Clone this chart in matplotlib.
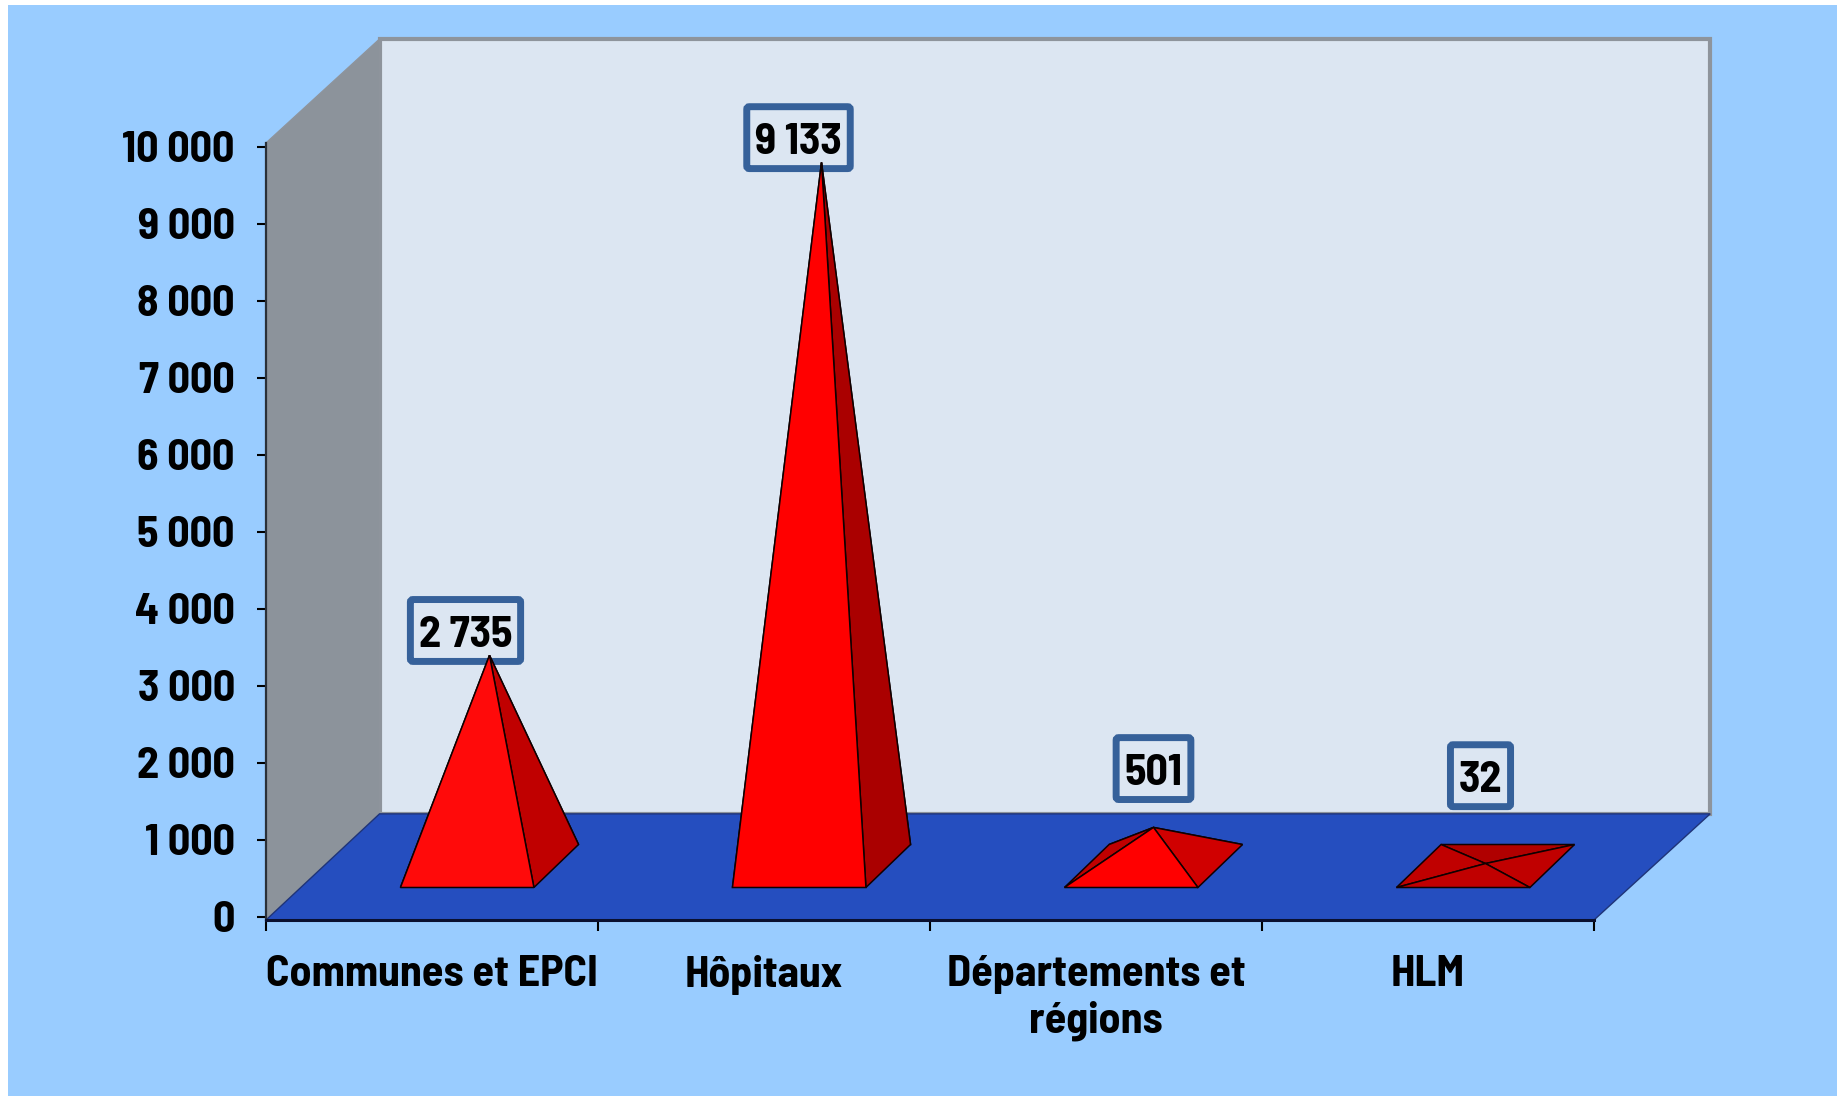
import matplotlib
matplotlib.use("Agg")
import matplotlib.pyplot as plt
from matplotlib.patches import Polygon, Rectangle, BoxStyle
from matplotlib.ticker import FuncFormatter

# ---- data ----
categories = ["Communes et EPCI", "Hôpitaux", "Départements et\nrégions", "HLM"]
values = [2735, 9133, 501, 32]
y_ticks = [0, 1000, 2000, 3000, 4000, 5000, 6000, 7000, 8000, 9000, 10000]

# ---- styles ----
W, H = 1837, 1096
DPI = 100
FONT = ["Barlow Semi Condensed", "Liberation Sans", "DejaVu Sans"]
FS = 31.7
BG = "#99CCFF"
WALL = "#DCE6F2"
SIDE = "#8C939B"
WALL_EDGE = "#8E949C"
FLOOR = "#254EBF"
BOX = "#36619A"
front_cols = ["#FF0A0A", "#FF0000", "#FF0000", "#C00000"]
right_cols = ["#C00000", "#AA0000", "#D00000", "#C00000"]
back_cols = ["#A00000", "#A00000", "#C00000", "#B00000"]
left_cols = ["#C00000", "#C00000", "#C00000", "#C00000"]
label_offsets_px = [(-24, 20), (-23, 20), (0, 54), (-5, 83)]

plt.rcParams["font.family"] = FONT
plt.rcParams["font.weight"] = "bold"

fig = plt.figure(figsize=(W / DPI, H / DPI), dpi=DPI, facecolor="white")
fig.add_artist(Rectangle((8 / W, 0), 1 - 8 / W, 1 - 5 / H, transform=fig.transFigure,
                         fc=BG, ec="none", zorder=-10))

# axes: x in category slots, y in value units
ax_l, ax_r, ax_b, ax_t = 266, 1594, 920, 143
ax = fig.add_axes([ax_l / W, 1 - ax_b / H, (ax_r - ax_l) / W, (ax_b - ax_t) / H])
ax.patch.set_visible(False)
ax.set_xlim(0, len(categories))
Y0, Y1 = -39, 10048
ax.set_ylim(Y0, Y1)

# oblique depth of the box (data units)
DX, DY_FLOOR, DY_TOP = 0.342, 1378, 1350
BACK_EXTRA = 0.008
n = len(categories)


def poly(pts, fc, ec="none", lw=0, z=1):
    ax.add_patch(Polygon(pts, closed=True, fc=fc, ec=ec, lw=lw, zorder=z, clip_on=False))


def label_box(x0, y0, width, height, mutation_size):
    """Rounded box, raised so that the figures sit in its middle."""
    base = BoxStyle.Round(pad=0.19, rounding_size=0.06)
    raise_px = 0.11 * mutation_size
    grow_px = 0.07 * mutation_size
    return base(x0, y0 + raise_px - grow_px, width, height + 2 * grow_px, mutation_size)


back_r = n + DX + BACK_EXTRA
floor_y = Y0 + DY_FLOOR
top_y = Y1 + DY_TOP
poly([(DX, floor_y), (back_r, floor_y), (back_r, top_y), (DX, top_y)], WALL, WALL_EDGE, 3, 1)
poly([(0, Y0), (DX, floor_y), (DX, top_y), (0, Y1)], SIDE, WALL_EDGE, 1, 1.1)
poly([(0, Y0), (n, Y0), (back_r, floor_y), (DX, floor_y)], FLOOR, "#1F3478", 1, 1.2)

# pyramids
B0, B1 = 0.405, 0.807        # front edge of base within a slot
BD_X, BD_Y = 0.1344, 558     # depth of base
BASE_Y = 383
for i, v in enumerate(values):
    fl = (i + B0, BASE_Y)
    fr = (i + B1, BASE_Y)
    br = (i + B1 + BD_X, BASE_Y + BD_Y)
    bl = (i + B0 + BD_X, BASE_Y + BD_Y)
    apex = (i + (B0 + B1 + BD_X) / 2, BASE_Y + BD_Y / 2 + v)
    for pts, col in [((bl, br, apex), back_cols[i]), ((fl, bl, apex), left_cols[i]),
                     ((fr, br, apex), right_cols[i]), ((fl, fr, apex), front_cols[i])]:
        poly(pts, col, "#100000", 1.1, 5)
    ax.annotate(f"{v:,}".replace(",", " "), xy=apex, xycoords="data",
                xytext=label_offsets_px[i], textcoords="offset pixels",
                ha="center", va="center", fontsize=FS, color="black", zorder=4,
                annotation_clip=False,
                bbox=dict(boxstyle=label_box, fc=WALL, ec=BOX, lw=5))

# axes dressing
for s in ["top", "right"]:
    ax.spines[s].set_visible(False)
ax.spines["left"].set_color("#2A3038")
ax.spines["left"].set_linewidth(1.6)
ax.spines["bottom"].set_color("#0A1030")
ax.spines["bottom"].set_linewidth(2.2)

ax.set_yticks(y_ticks)
ax.yaxis.set_major_formatter(FuncFormatter(lambda v, _: f"{int(v):,}".replace(",", " ")))
ax.tick_params(axis="y", length=6.5, width=1.5, color="black", pad=16, labelsize=FS)
ax.set_xticks(range(n + 1))
ax.set_xticklabels([])
ax.tick_params(axis="x", which="major", length=8, width=1.5, color="black")
ax.set_xticks([i + 0.5 for i in range(n)], minor=True)
ax.set_xticklabels(categories, minor=True, fontsize=FS, linespacing=1.22)
ax.tick_params(axis="x", which="minor", length=0, pad=25)

fig.savefig("out.png", dpi=DPI, facecolor=fig.get_facecolor())
